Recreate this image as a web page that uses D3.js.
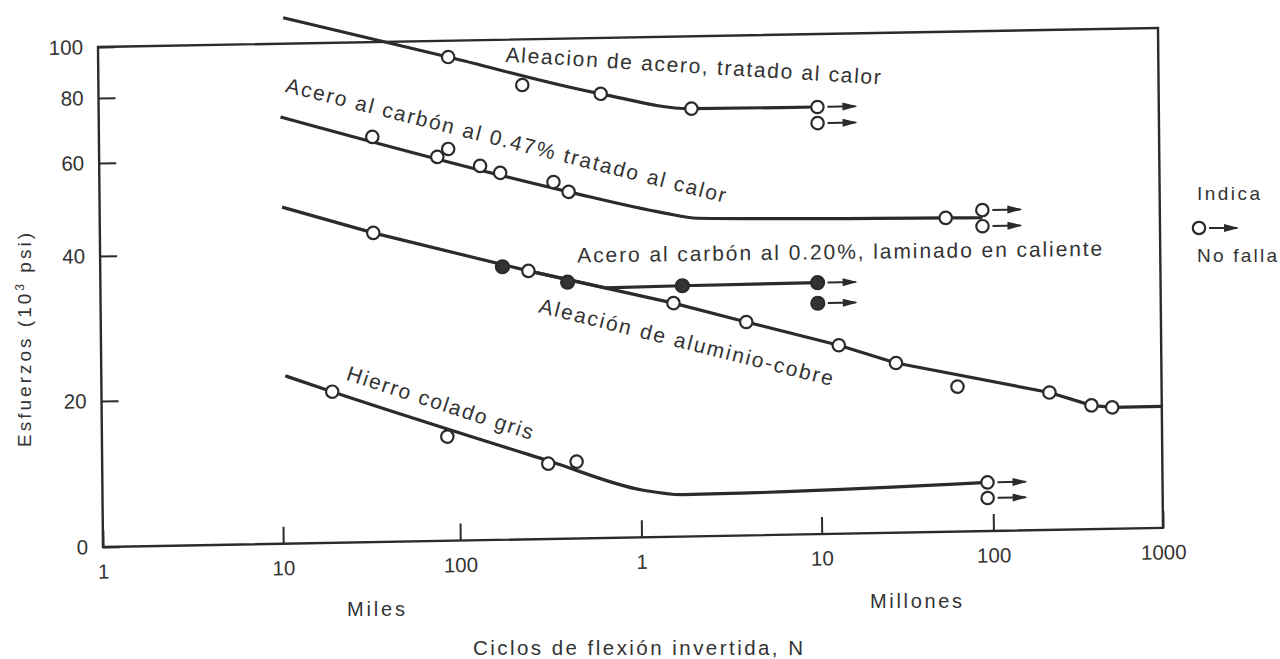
<!DOCTYPE html>
<html>
<head>
<meta charset="utf-8">
<script src="https://cdn.jsdelivr.net/npm/d3@7"></script>
<style>
    body { margin: 0; background: #fff; }
    text { font-family: "Liberation Sans", Arial, sans-serif; fill: #333; }
</style>
</head>
<body>
<div id="graph"></div>
<script>
const w = 1280;
const h = 659;

// ticks of the printed axes
const xTicks = [1e3, 1e4, 1e5, 1e6, 1e7, 1e8, 1e9];
const xTickLabels = ["1", "10", "100", "1", "10", "100", "1000"];
const yTicks = [10, 20, 40, 60, 80, 100];
const yTickLabels = ["0", "20", "40", "60", "80", "100"];

// [ciclos N, esfuerzo 10^3 psi]
const aceroAleacionLine = [[1.07e4, 112], [9.1e4, 93.1], [6.3e5, 78.3], [2.0e6, 72.8], [1.0e7, 72.6]];
const aceroAleacionPts = [[9.1e4, 93.1], [2.33e5, 81.9], [6.3e5, 78.3], [2.0e6, 72.8]];
const aceroAleacionNoFalla = [[1.0e7, 72.6], [1.0e7, 67.6]];

const carbon047Line = [[1.02e4, 72.5], [4.14e5, 51.0], [1.38e6, 46.2], [2.13e6, 45.0], [5.5e7, 44.2], [9.0e7, 44.1]];
const carbon047Pts = [[3.36e4, 65.9], [7.8e4, 60.0], [9.0e4, 62.1], [1.35e5, 57.5], [1.74e5, 55.7], [3.42e5, 53.3], [4.14e5, 51.0], [5.5e7, 44.2]];
const carbon047NoFalla = [[9.0e7, 45.6], [9.0e7, 42.5]];

const carbon020Line = [[2.46e5, 35.9], [6.5e5, 32.9], [1.74e6, 33.0], [9.8e6, 33.1]];
const carbon020Pts = [[1.77e5, 36.7], [4.04e5, 33.9], [1.74e6, 33.0]];
const carbon020NoFalla = [[9.8e6, 33.1], [9.8e6, 30.0]];

const aluminioLine = [[1.03e4, 48.8], [3.36e4, 43.3], [2.46e5, 35.9], [1.55e6, 30.4], [3.92e6, 27.6], [1.29e7, 24.5], [2.77e7, 22.4], [2.18e8, 19.2], [3.85e8, 18.0], [5.1e8, 17.8], [1.0e9, 17.8]];
const aluminioPts = [[3.36e4, 43.3], [2.46e5, 35.9], [1.55e6, 30.4], [3.92e6, 27.6], [1.29e7, 24.5], [2.77e7, 22.4], [6.3e7, 19.9], [2.18e8, 19.2], [3.85e8, 18.0], [5.1e8, 17.8]];

const hierroLine = [[1.05e4, 22.2], [1.93e4, 20.5], [3.09e5, 14.5], [1.03e6, 12.5], [1.72e6, 12.2], [9.3e7, 12.6]];
const hierroPts = [[1.93e4, 20.5], [8.57e4, 16.4], [3.09e5, 14.3], [4.43e5, 14.4]];
const hierroNoFalla = [[9.3e7, 12.6], [9.3e7, 11.7]];

const curveNames = [
    "Aleacion de acero, tratado al calor",
    "Acero al carbón al 0.47% tratado al calor",
    "Acero al carbón al 0.20%, laminado en caliente",
    "Aleación de aluminio-cobre",
    "Hierro colado gris"
];

// layout
const plot = { left: 103, right: 1163, top: 47, bottom: 547 };
// the printed axes are not evenly spaced, so the scales are calibrated on each tick
const xTickFrac = [0, 0.170, 0.337, 0.508, 0.678, 0.840, 1];
const yTickFrac = [0, 0.292, 0.582, 0.768, 0.898, 1];
const labelLayout = [
    { x: 510, y: 69, rot: 4.5, len: 376 },
    { x: 289, y: 95, rot: 15.2, len: 454 },
    { x: 580, y: 271, rot: 0.3, len: 525 },
    { x: 540, y: 320, rot: 15.1, len: 303 },
    { x: 347, y: 384, rot: 19, len: 195 }
];
const ink = "#2b2b2b";

const x = d3.scaleLog()
    .domain(xTicks)
    .range(xTickFrac.map(function(f) { return plot.left + f * (plot.right - plot.left); }));

const y = d3.scaleLog()
    .domain(yTicks)
    .range(yTickFrac.map(function(f) { return plot.bottom - f * (plot.bottom - plot.top); }));

const svg = d3.select("#graph")
    .append("svg")
    .attr("width", w)
    .attr("height", h);

// the scanned figure is slightly skewed
const g = svg.append("g")
    .attr("transform", "translate(" + plot.left + "," + plot.bottom + ") matrix(1,-0.018,0.01,1,0,0) translate(" + (-plot.left) + "," + (-plot.bottom) + ")");

// frame
g.append("rect")
    .attr("x", x(1e3))
    .attr("y", y(100))
    .attr("width", x(1e9) - x(1e3))
    .attr("height", y(10) - y(100))
    .attr("fill", "none")
    .attr("stroke", ink)
    .attr("stroke-width", 2.4);

const xAxis = d3.axisBottom(x)
    .tickValues(xTicks)
    .tickFormat(function(d) { return xTickLabels[xTicks.indexOf(d)]; })
    .tickSizeInner(-17)
    .tickSizeOuter(0)
    .tickPadding(17);

const yAxis = d3.axisLeft(y)
    .tickValues(yTicks)
    .tickFormat(function(d) { return yTickLabels[yTicks.indexOf(d)]; })
    .tickSizeInner(-17)
    .tickSizeOuter(0)
    .tickPadding(15);

const gx = g.append("g")
    .attr("transform", "translate(0," + plot.bottom + ")")
    .call(xAxis);

const gy = g.append("g")
    .attr("transform", "translate(" + plot.left + ",0)")
    .call(yAxis);

[gx, gy].forEach(function(a) {
    a.select(".domain").remove();
    a.selectAll(".tick line").attr("stroke", ink).attr("stroke-width", 2);
    a.selectAll(".tick text")
        .attr("fill", "#333")
        .style("font-size", "20.5px")
        .style("font-family", "'Liberation Sans', Arial, sans-serif");
});

const line = d3.line()
    .x(function(d) { return x(d[0]); })
    .y(function(d) { return y(d[1]); });

const curves = [
    { data: aceroAleacionLine, curve: d3.curveMonotoneX },
    { data: carbon047Line, curve: d3.curveMonotoneX },
    { data: carbon020Line, curve: d3.curveLinear },
    { data: aluminioLine, curve: d3.curveLinear },
    { data: hierroLine, curve: d3.curveMonotoneX }
];

curves.forEach(function(c) {
    g.append("path")
        .datum(c.data)
        .attr("d", line.curve(c.curve))
        .attr("fill", "none")
        .attr("stroke", ink)
        .attr("stroke-width", 3.2)
        .attr("stroke-linejoin", "round");
});

// open circles = failed specimens, filled = 0.20% carbon steel
let drawPoints = function(pts, filled) {
    g.append("g")
        .selectAll("circle")
        .data(pts)
        .enter()
        .append("circle")
        .attr("cx", function(d) { return x(d[0]); })
        .attr("cy", function(d) { return y(d[1]); })
        .attr("r", filled ? 6.5 : 6.2)
        .attr("fill", filled ? "#333" : "#fff")
        .attr("stroke", ink)
        .attr("stroke-width", 2.2);
};

let drawArrow = function(sel) {
    sel.append("line")
        .attr("x1", 10).attr("x2", 38)
        .attr("y1", 0).attr("y2", 0)
        .attr("stroke", ink)
        .attr("stroke-width", 2);
    sel.append("path")
        .attr("d", "M25,-4L40,0L25,4Z")
        .attr("fill", ink);
};

// no-failure runouts: marker plus arrow
let drawNoFalla = function(pts, filled) {
    const arrows = g.append("g")
        .selectAll("g")
        .data(pts)
        .enter()
        .append("g")
        .attr("transform", function(d) { return "translate(" + x(d[0]) + "," + y(d[1]) + ")"; });
    drawArrow(arrows);
    drawPoints(pts, filled);
};

drawPoints(aceroAleacionPts, false);
drawNoFalla(aceroAleacionNoFalla, false);
drawPoints(carbon047Pts, false);
drawNoFalla(carbon047NoFalla, false);
drawPoints(aluminioPts, false);
drawPoints(carbon020Pts, true);
drawNoFalla(carbon020NoFalla, true);
drawPoints(hierroPts, false);
drawNoFalla(hierroNoFalla, false);

// curve names
g.selectAll(".curve-label")
    .data(curveNames)
    .enter()
    .append("text")
    .attr("class", "curve-label")
    .attr("transform", function(d, i) {
        const l = labelLayout[i];
        return "translate(" + l.x + "," + l.y + ") rotate(" + l.rot + ")";
    })
    .attr("textLength", function(d, i) { return labelLayout[i].len; })
    .attr("lengthAdjust", "spacing")
    .style("font-size", "21px")
    .text(function(d) { return d; });

// axis titles
svg.append("text")
    .attr("x", 347).attr("y", 616)
    .attr("textLength", 58)
    .attr("lengthAdjust", "spacing")
    .style("font-size", "20px")
    .text("Miles");

svg.append("text")
    .attr("x", 870).attr("y", 608)
    .attr("textLength", 92)
    .attr("lengthAdjust", "spacing")
    .style("font-size", "20px")
    .text("Millones");

svg.append("text")
    .attr("x", 473).attr("y", 655)
    .attr("textLength", 330)
    .attr("lengthAdjust", "spacing")
    .style("font-size", "20.5px")
    .text("Ciclos de flexión invertida, N");

const yTitle = svg.append("text")
    .attr("transform", "translate(31,447) rotate(-90)")
    .attr("textLength", 214)
    .attr("lengthAdjust", "spacing")
    .style("font-size", "19px");
yTitle.append("tspan").text("Esfuerzos (10");
yTitle.append("tspan").attr("dy", -7).style("font-size", "12px").text("3");
yTitle.append("tspan").attr("dy", 7).text(" psi)");

// legend
const legend = svg.append("g");
legend.append("text")
    .attr("x", 1197).attr("y", 200)
    .attr("textLength", 63)
    .attr("lengthAdjust", "spacing")
    .style("font-size", "19px")
    .text("Indica");
const legendMark = legend.append("g")
    .attr("transform", "translate(1199,228)");
drawArrow(legendMark);
legendMark.append("circle")
    .attr("r", 6.2)
    .attr("fill", "#fff")
    .attr("stroke", ink)
    .attr("stroke-width", 2.2);
legend.append("text")
    .attr("x", 1197).attr("y", 262)
    .attr("textLength", 80)
    .attr("lengthAdjust", "spacing")
    .style("font-size", "19px")
    .text("No falla");
</script>
</body>
</html>
